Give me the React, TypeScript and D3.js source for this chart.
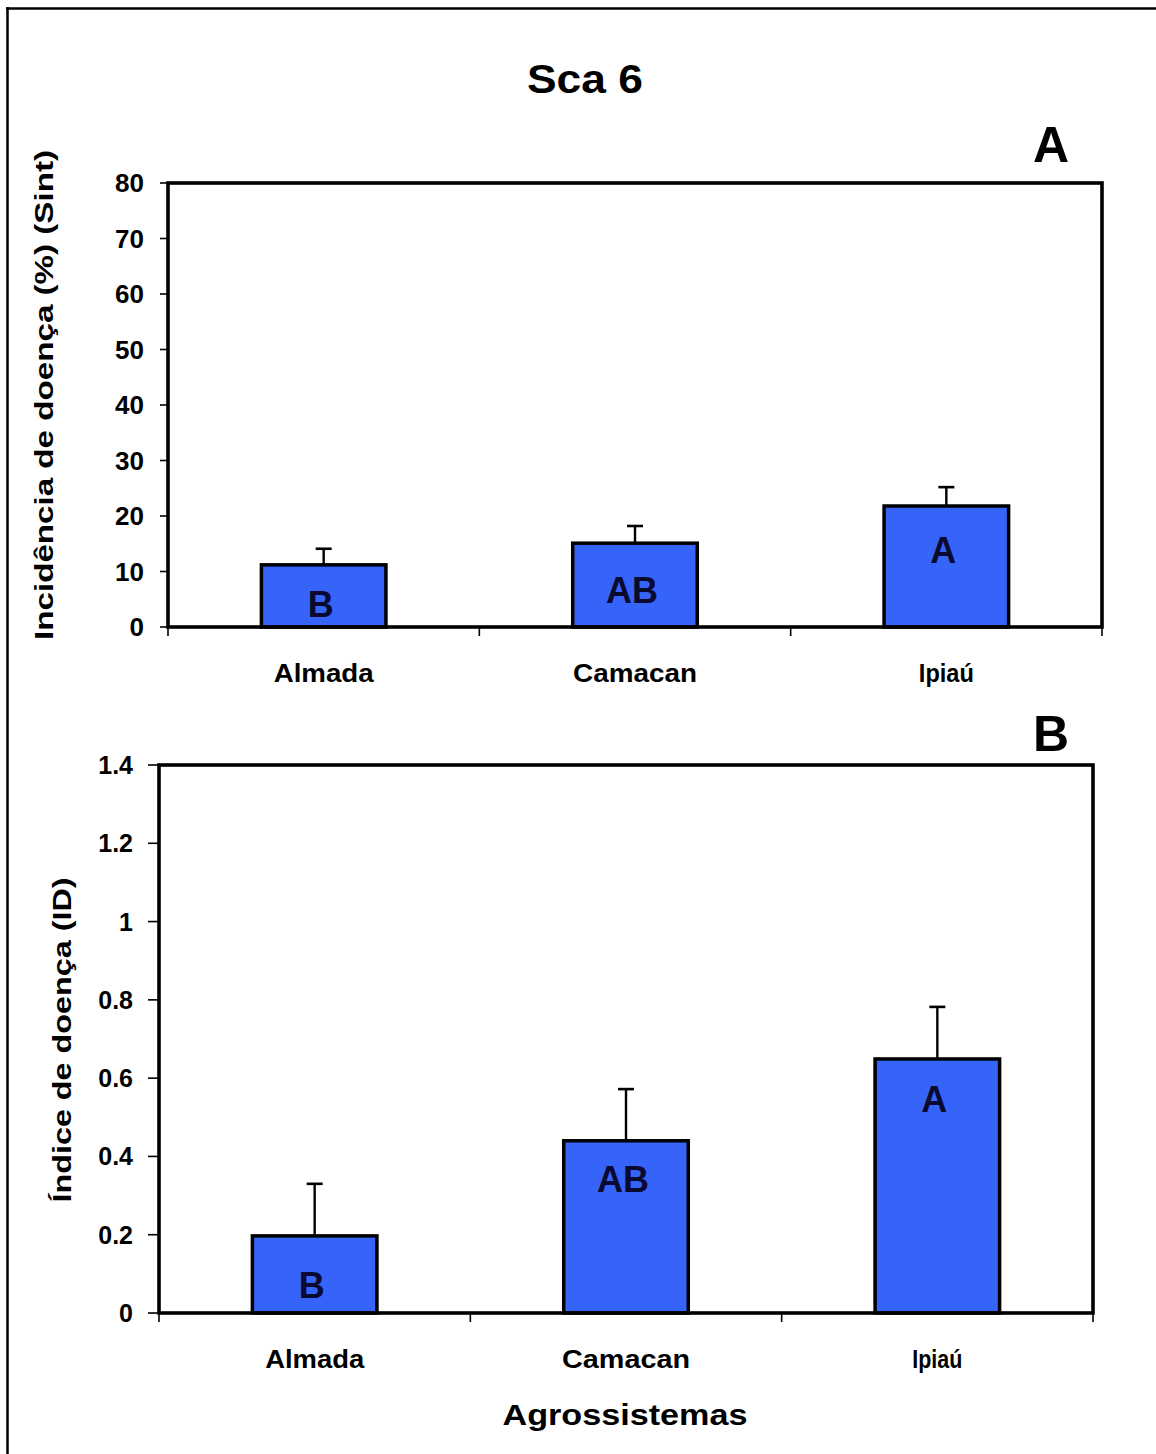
import React from "react";
import * as d3 from "d3";

const categories = ["Almada", "Camacan", "Ipiaú"];
const incidenceValues = [11.2, 15.1, 21.8];
const incidenceErrors = [2.9, 3.1, 3.4];
const incidenceLetters = ["B", "AB", "A"];
const incidenceLetterAt = [1.8, 4.3, 11.5];
const incidenceTicks = [0, 10, 20, 30, 40, 50, 60, 70, 80];

const indexValues = [0.197, 0.44, 0.649];
const indexErrors = [0.133, 0.132, 0.133];
const indexLetters = ["B", "AB", "A"];
const indexLetterAt = [0.038, 0.309, 0.514];
const indexTicks = [0, 0.2, 0.4, 0.6, 0.8, 1, 1.2, 1.4];

const FONT = "'Liberation Sans', Arial, Helvetica, sans-serif";
const BLUE = "#3663F8";

type PanelProps = {
  x0: number; x1: number; yTop: number; yBottom: number;
  max: number; values: number[]; errors: number[]; letters: string[]; letterAt: number[];
  ticks: number[]; tickFmt: (v: number) => string; tickLabelRight: number;
  tickLen: number; catBaseline: number; catWidths: number[]; tickFont: number;
};

function Panel(p: PanelProps) {
  const x = d3.scaleBand<string>().domain(categories).range([p.x0, p.x1]).paddingInner(0.6).paddingOuter(0.3);
  const y = d3.scaleLinear().domain([0, p.max]).range([p.yBottom, p.yTop]);
  const step = x.step();
  const bw = x.bandwidth();
  const boundaries = d3.range(categories.length + 1).map((i) => p.x0 + i * step);
  return (
    <g>
      {p.ticks.map((t) => (
        <g key={t}>
          <line x1={p.x0 - p.tickLen} x2={p.x0} y1={y(t)} y2={y(t)} stroke="#000" strokeWidth={1.6} />
          <text x={p.tickLabelRight} y={y(t)} dy="0.36em" textAnchor="end" fontFamily={FONT} fontWeight="bold" fontSize={p.tickFont}>
            {p.tickFmt(t)}
          </text>
        </g>
      ))}
      {boundaries.map((b, i) => (
        <line key={i} x1={b} x2={b} y1={p.yBottom} y2={p.yBottom + 9} stroke="#000" strokeWidth={1.6} />
      ))}
      {categories.map((c, i) => {
        const cx = (x(c) as number) + bw / 2;
        const top = y(p.values[i]);
        const errTop = y(p.values[i] + p.errors[i]);
        return (
          <g key={c}>
            <line x1={cx} x2={cx} y1={errTop} y2={top} stroke="#000" strokeWidth={2.4} />
            <line x1={cx - 8} x2={cx + 8} y1={errTop} y2={errTop} stroke="#000" strokeWidth={2.6} />
            <rect x={x(c)} y={top} width={bw} height={p.yBottom - top} fill={BLUE} stroke="#000" strokeWidth={3.5} />
            <text x={cx - 3} y={y(p.letterAt[i])} textAnchor="middle" fontFamily={FONT} fontWeight="bold" fontSize={36} fill="#0a0a30">
              {p.letters[i]}
            </text>
            <text x={cx} y={p.catBaseline} textAnchor="middle" fontFamily={FONT} fontWeight="bold" fontSize={25}
              textLength={p.catWidths[i]} lengthAdjust="spacingAndGlyphs">
              {c}
            </text>
          </g>
        );
      })}
      <rect x={p.x0} y={p.yTop} width={p.x1 - p.x0} height={p.yBottom - p.yTop} fill="none" stroke="#000" strokeWidth={3.6} />
    </g>
  );
}

export default function App() {
  return (
    <svg width={1156} height={1454} style={{ position: "absolute", left: 0, top: 0, background: "#fff" }}>
      <rect x={0} y={0} width={1156} height={1454} fill="#fff" />
      <line x1={7.5} x2={7.5} y1={7} y2={1454} stroke="#000" strokeWidth={2.5} />
      <line x1={6} x2={1156} y1={8.5} y2={8.5} stroke="#000" strokeWidth={2.5} />
      <text x={585} y={93} textAnchor="middle" fontFamily={FONT} fontWeight="bold" fontSize={40} textLength={116} lengthAdjust="spacingAndGlyphs">Sca 6</text>
      <text x={1051} y={162} textAnchor="middle" fontFamily={FONT} fontWeight="bold" fontSize={50}>A</text>
      <text x={1051} y={751} textAnchor="middle" fontFamily={FONT} fontWeight="bold" fontSize={50}>B</text>

      <Panel x0={168} x1={1102} yTop={183} yBottom={627} max={80}
        values={incidenceValues} errors={incidenceErrors} letters={incidenceLetters} letterAt={incidenceLetterAt}
        ticks={incidenceTicks} tickFmt={(v) => String(v)} tickLabelRight={144} tickLen={8} tickFont={26}
        catBaseline={682} catWidths={[100, 124, 55]} />
      <Panel x0={159} x1={1093} yTop={765} yBottom={1313} max={1.4}
        values={indexValues} errors={indexErrors} letters={indexLetters} letterAt={indexLetterAt}
        ticks={indexTicks} tickFmt={(v) => d3.format("~g")(v)} tickLabelRight={133} tickLen={11} tickFont={25}
        catBaseline={1368} catWidths={[99, 128, 50]} />

      <text transform="translate(53,395) rotate(-90)" textAnchor="middle" fontFamily={FONT} fontWeight="bold" fontSize={25}
        textLength={490} lengthAdjust="spacingAndGlyphs">Incidência de doença (%) (Sint)</text>
      <text transform="translate(71,1040) rotate(-90)" textAnchor="middle" fontFamily={FONT} fontWeight="bold" fontSize={25}
        textLength={325} lengthAdjust="spacingAndGlyphs">Índice de doença (ID)</text>
      <text x={625} y={1425} textAnchor="middle" fontFamily={FONT} fontWeight="bold" fontSize={30}
        textLength={245} lengthAdjust="spacingAndGlyphs">Agrossistemas</text>
    </svg>
  );
}
